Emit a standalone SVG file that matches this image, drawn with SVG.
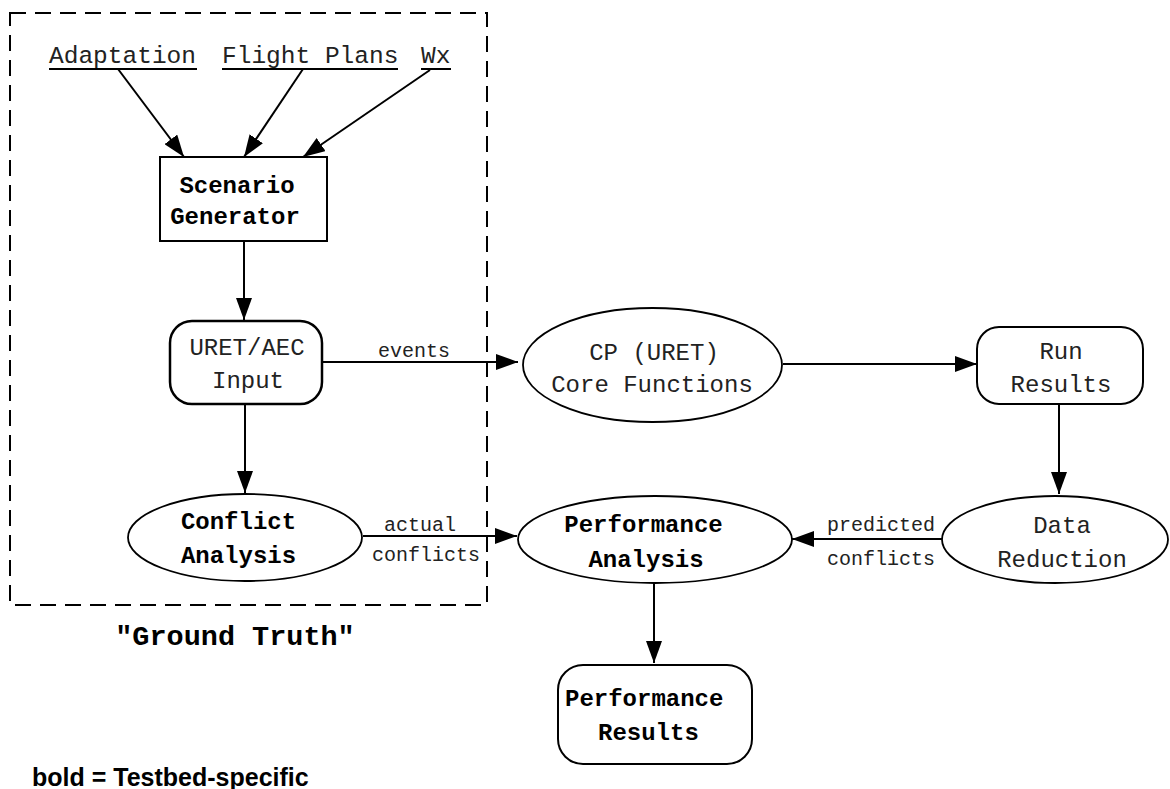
<svg xmlns="http://www.w3.org/2000/svg" width="1170" height="789" viewBox="0 0 1170 789">
<style>
.mono{font-family:"Liberation Mono","Courier New",monospace;font-size:24px;fill:#000}
.thin{fill:#222}
.b{font-weight:bold}
.lbl{font-family:"Liberation Mono","Courier New",monospace;font-size:20px;fill:#222}
.shape{fill:#fff;stroke:#000;stroke-width:2}
.ell{fill:#fff;stroke:#000;stroke-width:1.8}
.edge{stroke:#000;stroke-width:2;fill:none}
.mid{text-anchor:middle}
</style>
<defs>
<marker id="ah" markerUnits="userSpaceOnUse" markerWidth="22" markerHeight="16" refX="22" refY="8" orient="auto">
<path d="M0,0 L22,8 L0,16 z" fill="#000"/>
</marker>
</defs>
<rect width="1170" height="789" fill="#fff"/>
<g id="ground-truth-boundary">
<rect x="10" y="13" width="477" height="592" fill="none" stroke="#000" stroke-width="2" stroke-dasharray="16 9"/>
<text x="235" y="645" class="mono b mid" style="font-size:28.5px">"Ground Truth"</text>
</g>
<g id="connectors">
<line class="edge" x1="118" y1="69" x2="184" y2="157" marker-end="url(#ah)"/>
<line class="edge" x1="303" y1="69" x2="244" y2="157" marker-end="url(#ah)"/>
<line class="edge" x1="430" y1="70" x2="303" y2="157" marker-end="url(#ah)"/>
<line class="edge" x1="244" y1="241" x2="244" y2="320" marker-end="url(#ah)"/>
<line class="edge" x1="245" y1="404" x2="245" y2="493" marker-end="url(#ah)"/>
<line class="edge" x1="323" y1="362" x2="518" y2="362" marker-end="url(#ah)"/>
<text x="414" y="357" class="lbl mid">events</text>
<line class="edge" x1="363" y1="536" x2="517" y2="536" marker-end="url(#ah)"/>
<text x="420" y="531" class="lbl mid">actual</text>
<text x="426" y="561" class="lbl mid">conflicts</text>
<line class="edge" x1="783" y1="364" x2="977" y2="364" marker-end="url(#ah)"/>
<line class="edge" x1="1059" y1="405" x2="1059" y2="494" marker-end="url(#ah)"/>
<line class="edge" x1="942" y1="539" x2="792" y2="539" marker-end="url(#ah)"/>
<text x="881" y="531" class="lbl mid">predicted</text>
<text x="881" y="565" class="lbl mid">conflicts</text>
<line class="edge" x1="654" y1="583" x2="654" y2="663" marker-end="url(#ah)"/>
</g>
<g id="inputs">
<text x="49" y="63" class="mono thin" style="font-size:24.5px">Adaptation</text>
<line x1="49" y1="69" x2="197" y2="69" stroke="#000" stroke-width="2"/>
<text x="222" y="63" class="mono thin" style="font-size:24.5px">Flight Plans</text>
<line x1="222" y1="69" x2="398" y2="69" stroke="#000" stroke-width="2"/>
<text x="421" y="63" class="mono thin" style="font-size:24.5px">Wx</text>
<line x1="421" y1="69" x2="451" y2="69" stroke="#000" stroke-width="2"/>
</g>
<g id="scenario-generator">
<rect x="160" y="157" width="167" height="84" class="shape"/>
<text x="237" y="193" class="mono b mid">Scenario</text>
<text x="235" y="224" class="mono b mid">Generator</text>
</g>
<g id="uret-aec-input">
<rect x="170" y="321" width="152" height="83" rx="22" ry="22" class="shape" style="stroke-width:2.5"/>
<text x="247" y="355" class="mono thin mid">URET/AEC</text>
<text x="248" y="388" class="mono thin mid">Input</text>
</g>
<g id="conflict-analysis">
<ellipse cx="245" cy="537.5" rx="117" ry="43.5" class="ell"/>
<text x="238.5" y="529" class="mono b mid">Conflict</text>
<text x="238.5" y="563" class="mono b mid">Analysis</text>
</g>
<g id="cp-core-functions">
<ellipse cx="652.5" cy="365" rx="129.5" ry="57" class="ell"/>
<text x="654" y="360" class="mono thin mid">CP (URET)</text>
<text x="652" y="392" class="mono thin mid">Core Functions</text>
</g>
<g id="run-results">
<rect x="977" y="327" width="166" height="77" rx="22" ry="22" class="shape"/>
<text x="1061" y="359" class="mono thin mid">Run</text>
<text x="1061" y="392" class="mono thin mid">Results</text>
</g>
<g id="data-reduction">
<ellipse cx="1055" cy="539.5" rx="113" ry="43.5" class="ell"/>
<text x="1062" y="533" class="mono thin mid">Data</text>
<text x="1062" y="567" class="mono thin mid">Reduction</text>
</g>
<g id="performance-analysis">
<ellipse cx="655" cy="539.5" rx="137" ry="43.5" class="ell"/>
<text x="643.5" y="532" class="mono b mid">Performance</text>
<text x="646" y="567" class="mono b mid">Analysis</text>
</g>
<g id="performance-results">
<rect x="558" y="665" width="194" height="99" rx="25" ry="25" class="shape"/>
<text x="565" y="706" class="mono b">Performance</text>
<text x="598" y="740" class="mono b">Results</text>
</g>
<g id="legend">
<text x="32" y="786" style="font-family:'Liberation Sans',Arial,sans-serif;font-weight:bold;font-size:25px;fill:#000">bold = Testbed-specific</text>
</g>
</svg>
